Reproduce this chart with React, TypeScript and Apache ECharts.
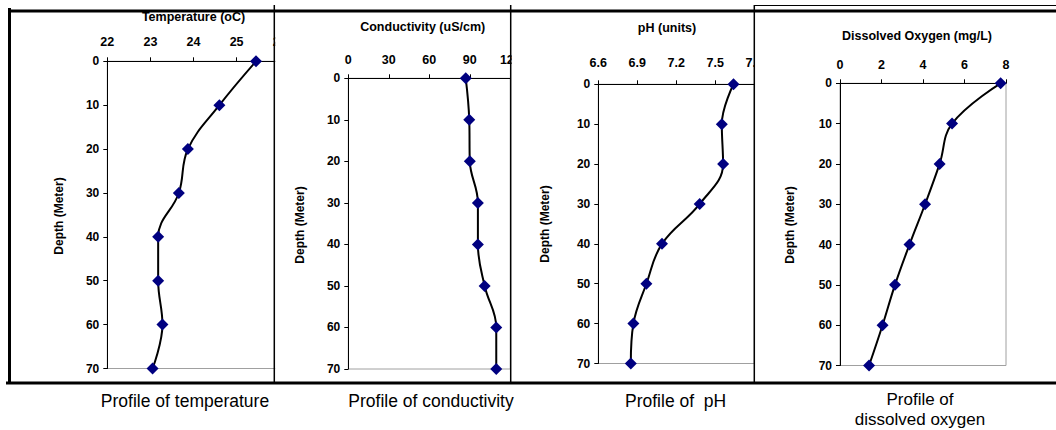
import React, { useEffect, useRef } from "react";
import * as echarts from "echarts";

// ---- data ----
const depths = [0, 10, 20, 30, 40, 50, 60, 70];
const temperature = [25.45, 24.6, 23.87, 23.66, 23.18, 23.18, 23.28, 23.05];
const conductivity = [87, 89.6, 90, 96, 96, 101, 109.6, 109.6];
const ph = [7.64, 7.55, 7.56, 7.38, 7.09, 6.97, 6.87, 6.85];
const dissolvedOxygen = [7.74, 5.4, 4.8, 4.1, 3.35, 2.65, 2.05, 1.4];

const titles = ["Temperature (oC)", "Conductivity (uS/cm)", "pH (units)", "Dissolved Oxygen (mg/L)"];
const captions = ["Profile of temperature", "Profile of conductivity", "Profile of  pH", "Profile of\ndissolved oxygen"];
const depthName = "Depth (Meter)";
const depthTicks = { min: 0, max: 70, interval: 10 };
const xRanges = [
  { min: 22, max: 26, interval: 1, digits: 0 },
  { min: 0, max: 120, interval: 30, digits: 0 },
  { min: 6.6, max: 7.8, interval: 0.3, digits: 1 },
  { min: 0, max: 8, interval: 2, digits: 0 },
];
const seriesValues = [temperature, conductivity, ph, dissolvedOxygen];

// ---- layout (page px) ----
const grids = [
  { left: 107.3, top: 61.3, width: 172.4, bottom: 368.5, labelMargin: 13 },
  { left: 348.3, top: 78.3, width: 162, bottom: 369, labelMargin: 12 },
  { left: 598.3, top: 84.3, width: 156, bottom: 363.5, labelMargin: 15 },
  { left: 840, top: 83.3, width: 166, bottom: 365.5, labelMargin: 12 },
];
const titlePos = [
  [193.5, 16.5],
  [422.7, 26.7],
  [667, 28.3],
  [917, 35.7],
];
const namePos = [
  [59, 216],
  [300, 225],
  [545, 224],
  [790, 225],
];
const captionPos = [
  [185, 400.5],
  [431, 400.5],
  [675.6, 400.7],
  [920, 409.5],
];
const FONT = "'Liberation Sans', Arial, Helvetica, sans-serif";

export default function App() {
  const ref = useRef<HTMLDivElement>(null);
  useEffect(() => {
    if (!ref.current) return;
    const chart = echarts.init(ref.current, undefined, { renderer: "svg" });

    const gridOpts = grids.map((g) => ({
      left: g.left,
      top: g.top,
      width: g.width,
      height: g.bottom - g.top,
      show: true,
      borderColor: "#a0a0a0",
      borderWidth: 1,
      backgroundColor: "#fff",
      containLabel: false,
      outerBoundsMode: "none",
    }));

    const xAxes = xRanges.map((r, i) => ({
      type: "value",
      gridIndex: i,
      position: "top",
      min: r.min,
      max: r.max,
      interval: r.interval,
      axisLine: { show: true, lineStyle: { color: "#000", width: 1 } },
      axisTick: { show: true, inside: false, length: 4, lineStyle: { color: "#000" } },
      splitLine: { show: false },
      axisLabel: {
        color: "#000",
        fontWeight: "bold",
        fontSize: 12.5,
        fontFamily: FONT,
        margin: grids[i].labelMargin,
        formatter: (v: number) => v.toFixed(r.digits),
        showMaxLabel: true,
        showMinLabel: true,
      },
    }));

    const yAxes = grids.map((_, i) => ({
      type: "value",
      gridIndex: i,
      inverse: true,
      min: depthTicks.min,
      max: depthTicks.max,
      interval: depthTicks.interval,
      axisLine: { show: true, onZero: false, lineStyle: { color: "#000", width: 1 } },
      axisTick: { show: true, inside: false, length: 4, lineStyle: { color: "#000" } },
      splitLine: { show: false },
      axisLabel: {
        color: "#000",
        fontWeight: "bold",
        fontSize: 12,
        fontFamily: FONT,
        margin: 8,
      },
    }));

    const series = seriesValues.map((vals, i) => ({
      type: "line",
      xAxisIndex: i,
      yAxisIndex: i,
      data: vals.map((v, k) => [v, depths[k]]),
      smooth: 0.4,
      clip: false,
      symbol: "diamond",
      symbolSize: 12,
      itemStyle: { color: "#000080" },
      lineStyle: { color: "#000", width: 2 },
    }));

    const graphic: any[] = [];
    // white covers that clip the charts at the cell separators
    const covers = [
      [275.2, 16],
      [511.6, 22],
      [755, 22],
    ];
    covers.forEach(([x, w]) =>
      graphic.push({ type: "rect", z: 100, shape: { x, y: 13, width: w, height: 368 }, style: { fill: "#fff" } })
    );
    titles.forEach((t, i) =>
      graphic.push({
        type: "text",
        z: 50,
        x: titlePos[i][0],
        y: titlePos[i][1],
        style: {
          text: t,
          fill: "#000",
          fontSize: 12.5,
          fontWeight: "bold",
          fontFamily: FONT,
          textAlign: "center",
          textVerticalAlign: "middle",
        },
      })
    );
    namePos.forEach(([x, y]) =>
      graphic.push({
        type: "text",
        z: 50,
        x,
        y,
        rotation: Math.PI / 2,
        style: {
          text: depthName,
          fill: "#000",
          fontSize: 12,
          fontWeight: "bold",
          fontFamily: FONT,
          textAlign: "center",
          textVerticalAlign: "middle",
        },
      })
    );
    captions.forEach((c, i) =>
      graphic.push({
        type: "text",
        z: 50,
        x: captionPos[i][0],
        y: captionPos[i][1],
        style: {
          text: c,
          fill: "#000",
          fontSize: i === 3 ? 17 : 17.5,
          lineHeight: 20,
          fontFamily: FONT,
          textAlign: "center",
          textVerticalAlign: "middle",
        },
      })
    );
    const line = (x1: number, y1: number, x2: number, y2: number, w: number) =>
      graphic.push({
        type: "line",
        z: 120,
        shape: { x1, y1, x2, y2 },
        style: { stroke: "#000", lineWidth: w },
      });
    line(8, 11, 1056, 11, 3); // top thick
    line(9.5, 8, 9.5, 384, 3); // left thick
    line(6, 383, 1056, 383, 3); // bottom thick
    line(274.3, 5, 274.3, 382, 1.5);
    line(510.7, 5, 510.7, 382, 1.5);
    line(754.3, 5, 754.3, 382, 1.5);
    line(754.3, 5.5, 1056, 5.5, 1); // DO frame top

    chart.setOption({
      animation: false,
      backgroundColor: "#fff",
      grid: gridOpts,
      xAxis: xAxes,
      yAxis: yAxes,
      series,
      graphic,
    });
    return () => chart.dispose();
  }, []);
  return (
    <div
      ref={ref}
      style={{ position: "absolute", left: 0, top: 0, width: 1056, height: 430, background: "#fff" }}
    />
  );
}
